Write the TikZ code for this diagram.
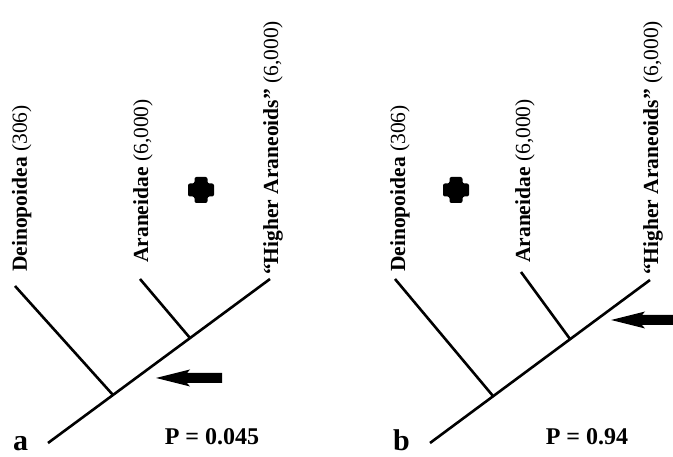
\documentclass[tikz,border=0pt]{standalone}
\usepackage{fontspec}
\setmainfont{Liberation Serif}
\begin{document}
\begin{tikzpicture}[x=1pt,y=-1pt,
  branch/.style={line width=2.6pt},
  taxon/.style={rotate=90, anchor=base west, inner sep=0pt, font=\fontsize{21.5}{21.5}\selectfont},
  panel/.style={anchor=base west, inner sep=0pt, font=\fontsize{30}{30}\selectfont\bfseries},
  pval/.style={anchor=base, inner sep=0pt, font=\fontsize{24}{24}\selectfont\bfseries},
  plusmark/.pic={\fill[black, rounded corners=2pt] (-6.5,-13) -- (6.5,-13) -- (6.5,-6.5) -- (13,-6.5) -- (13,6.5) -- (6.5,6.5) -- (6.5,13) -- (-6.5,13) -- (-6.5,6.5) -- (-13,6.5) -- (-13,-6.5) -- (-6.5,-6.5) -- cycle;},
  ]
\useasboundingbox (0,0) rectangle (673,457);

% ---------- panel a ----------
\coordinate (aR) at (48,443);
\coordinate (aJ1) at (113,395);
\coordinate (aJ2) at (190,338);
\coordinate (aD) at (15,286);
\coordinate (aA) at (140,279);
\coordinate (aH) at (270,279);
\draw[branch] (aR) -- (aH);
\draw[branch] (aJ1) -- (aD);
\draw[branch] (aJ2) -- (aA);
\node[taxon] (aLD) at (27,272) {\textbf{Deinopoidea} (306)};
\node[taxon] (aLA) at (148,263) {\textbf{Araneidae} (6,000)};
\node[taxon] (aLH) at (278,275) {\textbf{“Higher Araneoids”} (6,000)};
\pic at (201,190) {plusmark};
\fill (156,378) -- (190,369.5) -- (187,373) -- (222,373) -- (222,383) -- (187,383) -- (190,386.5) -- cycle;
\node[panel] (la) at (13,450) {a};
\node[pval] (pa) at (212,445) {P = 0.045};

% ---------- panel b ----------
\coordinate (bR) at (430,443);
\coordinate (bJ1) at (493,396);
\coordinate (bJ2) at (570,339);
\coordinate (bD) at (395,279);
\coordinate (bA) at (521,272);
\coordinate (bH) at (650,280);
\draw[branch] (bR) -- (bH);
\draw[branch] (bJ1) -- (bD);
\draw[branch] (bJ2) -- (bA);
\node[taxon] (bLD) at (405,272) {\textbf{Deinopoidea} (306)};
\node[taxon] (bLA) at (530,263) {\textbf{Araneidae} (6,000)};
\node[taxon] (bLH) at (658,275) {\textbf{“Higher Araneoids”} (6,000)};
\pic at (456,190) {plusmark};
\fill (611,320) -- (645,311.5) -- (642,315) -- (673,315) -- (673,325) -- (642,325) -- (645,328.5) -- cycle;
\node[panel] (lb) at (393,450) {b};
\node[pval] (pb) at (587,445) {P = 0.94};
\end{tikzpicture}
\end{document}
